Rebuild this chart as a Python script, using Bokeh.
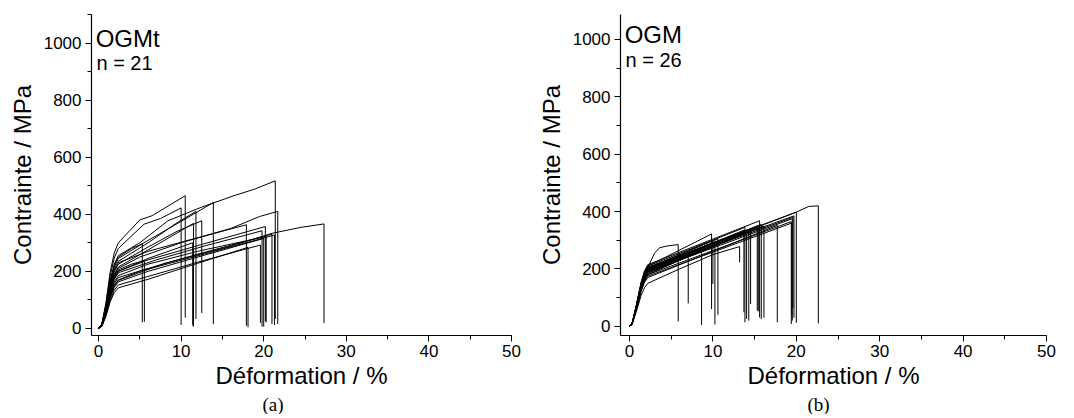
from bokeh.plotting import figure
from bokeh.layouts import row
from bokeh.models import Range1d, SingleIntervalTicker, Label, Title
from bokeh.embed import file_html
from bokeh.resources import INLINE

# ---------------- Panel (a): OGMt, n = 21 ----------------
# shared initial-rise shape (strain %, fraction of knee stress)
A_RISE_STRAIN = [0.0, 0.4, 0.9, 1.4, 1.9, 2.4]
A_RISE_FRAC = [0.0, 0.05, 0.30, 0.65, 0.88, 1.0]
# knee stress (MPa) reached at end of rise
A_KNEE = [300, 280, 255, 245, 235, 225, 215, 210, 230, 200, 195,
          178, 170, 163, 152, 142, 168, 250, 205, 185, 200]
# intermediate (strain, stress) points after the knee
A_MID = [
    [(5, 380), (6.5, 395), (8.5, 430)],
    [(5.5, 365), (7.5, 385)],
    [(5, 300), (8.4, 377), (12.4, 424), (16.4, 465), (18.9, 488)],
    [(5.5, 300), (10, 375)],
    [(6, 300), (9.5, 370)],
    [(6, 285), (9.5, 340)],
    [(6, 275)],
    [(5, 250), (10, 300), (16, 350), (19.5, 392)],
    [(6, 270), (11, 310)],
    [(6, 240), (12, 290)],
    [(7, 240), (13, 290)],
    [(6, 210), (12, 260)],
    [(5, 200), (13, 262)],
    [(6, 200), (13, 258)],
    [(6, 182), (13, 240)],
    [(6, 172), (12, 228)],
    [(8, 228), (16, 288), (21, 333), (24.5, 354)],
    [(4, 280)],
    [(4, 225)],
    [(6, 225), (12, 270)],
    [(6, 245)],
]
A_BREAK_STRAIN = [10.5, 10.0, 21.4, 13.9, 11.8, 12.5, 11.5, 21.7, 17.9, 20.2, 19.8,
                  21.0, 21.3, 20.0, 19.6, 18.1, 27.3, 5.3, 5.55, 20.3, 11.4]
A_BREAK_STRESS = [465, 422, 517, 441, 410, 377, 368, 410, 363, 357, 342,
                  330, 327, 315, 292, 284, 366, 296, 238, 322, 300]
A_RESIDUAL = [38, 12, 33, 15, 33, 54, 6, 15, 9, 25, 6,
              15, 12, 6, 19, 4, 19, 21, 23, 21, 10]

# ---------------- Panel (b): OGM, n = 26 ----------------
B_RISE_STRAIN = [0.0, 0.3, 0.8, 1.4, 1.8, 2.2]
B_RISE_FRAC = [0.0, 0.04, 0.33, 0.72, 0.90, 1.0]
B_KNEE = [205, 190, 180, 210, 200, 195, 205, 150, 200, 210, 190, 205, 195,
          190, 215, 200, 185, 170, 180, 190, 195, 200, 205, 200, 175, 185]
B_MID = [
    [(3, 255), (3.6, 274), (4.5, 280)],
    [], [], [], [], [], [], [(6, 200), (10, 250)],
    [], [], [], [], [], [], [], [], [], [], [], [], [], [],
    [], [(20, 398), (21.5, 418)], [], [],
]
B_BREAK_STRAIN = [5.84, 7.04, 8.64, 9.84, 10.0, 10.24, 10.6, 13.2, 13.72, 13.84, 14.04,
                  14.52, 15.32, 15.44, 15.6, 15.8, 16.12, 17.72, 19.4, 19.52, 19.6,
                  19.72, 20.0, 22.64, 19.45, 14.3]
B_BREAK_STRESS = [285, 250, 265, 322, 300, 295, 305, 278, 335, 345, 330,
                  340, 350, 345, 368, 355, 350, 352, 365, 375, 380,
                  385, 398, 420, 360, 330]
B_RESIDUAL = [17, 80, 5, 60, 148, 6, 40, 223, 49, 14, 26,
              78, 55, 52, 31, 26, 30, 14, 8, 20, 64,
              30, 12, 10, 40, 20]

X_TICKS = [0, 10, 20, 30, 40, 50]
Y_TICKS = [0, 200, 400, 600, 800, 1000]


def build_curves(rise_s, rise_f, knee, mids, bs, bst, res):
    xs, ys = [], []
    for k, m, s_b, st_b, r in zip(knee, mids, bs, bst, res):
        x = list(rise_s)
        y = [f * k for f in rise_f]
        for (mx, my) in m:
            x.append(mx)
            y.append(my)
        x += [s_b, s_b]
        y += [st_b, r]
        xs.append(x)
        ys.append(y)
    return xs, ys


SANS = "Liberation Sans"


def make_panel(xs, ys, name, n_text, letter, x_start, y_start, y_end,
               fw, mbl, mbr, letter_offset):
    p = figure(frame_width=fw, frame_height=321,
               x_range=Range1d(x_start, 50), y_range=Range1d(y_start, y_end),
               output_backend="svg", toolbar_location=None,
               min_border_left=mbl, min_border_right=mbr,
               min_border_top=14, min_border_bottom=60)
    p.outline_line_color = None
    p.xgrid.visible = False
    p.ygrid.visible = False
    p.background_fill_color = "white"
    p.border_fill_color = "white"

    p.multi_line(xs, ys, line_color="black", line_width=1)

    p.xaxis.ticker = SingleIntervalTicker(interval=10, num_minor_ticks=2)
    p.yaxis.ticker = SingleIntervalTicker(interval=200, num_minor_ticks=2)
    for ax in (p.xaxis[0], p.yaxis[0]):
        ax.axis_line_color = "black"
        ax.axis_line_width = 1.2
        ax.major_tick_line_color = "black"
        ax.minor_tick_line_color = "black"
        ax.major_tick_in = 0
        ax.major_tick_out = 6
        ax.minor_tick_in = 0
        ax.minor_tick_out = 4
        ax.major_label_text_font = SANS
        ax.major_label_text_font_size = "17px"
        ax.major_label_text_color = "black"
        ax.axis_label_text_font = SANS
        ax.axis_label_text_font_size = "24px"
        ax.axis_label_text_font_style = "normal"
        ax.axis_label_text_color = "black"
    p.xaxis.axis_label = "Déformation / %"
    p.yaxis.axis_label = "Contrainte / MPa"
    p.xaxis.major_label_standoff = 3
    p.yaxis.major_label_standoff = 4
    p.xaxis.axis_label_standoff = 2
    p.yaxis.axis_label_standoff = 5

    p.add_layout(Label(x=x_start + 0.5, y=1017, text=name, text_font=SANS,
                       text_font_size="24px", text_color="black",
                       text_baseline="alphabetic"))
    p.add_layout(Label(x=x_start + 0.6, y=930, text=n_text, text_font=SANS,
                       text_font_size="20px", text_color="black",
                       text_baseline="alphabetic"))
    p.add_layout(Title(text=letter, align="left", text_font="Liberation Serif",
                       text_font_size="19px", text_font_style="normal",
                       text_color="black", offset=letter_offset, standoff=0), "below")
    return p


axs, ays = build_curves(A_RISE_STRAIN, A_RISE_FRAC, A_KNEE, A_MID,
                        A_BREAK_STRAIN, A_BREAK_STRESS, A_RESIDUAL)
bxs, bys = build_curves(B_RISE_STRAIN, B_RISE_FRAC, B_KNEE, B_MID,
                        B_BREAK_STRAIN, B_BREAK_STRESS, B_RESIDUAL)

p1 = make_panel(axs, ays, "OGMt", "n = 21", "(a)", -0.85, -25, 1100,
                420, 91, 17, 171)
p2 = make_panel(bxs, bys, "OGM", "n = 26", "(b)", -1.08, -32, 1087,
                426, 92, 20, 187)

layout = row(p1, p2)
open("out.html", "w").write(file_html(layout, INLINE))
